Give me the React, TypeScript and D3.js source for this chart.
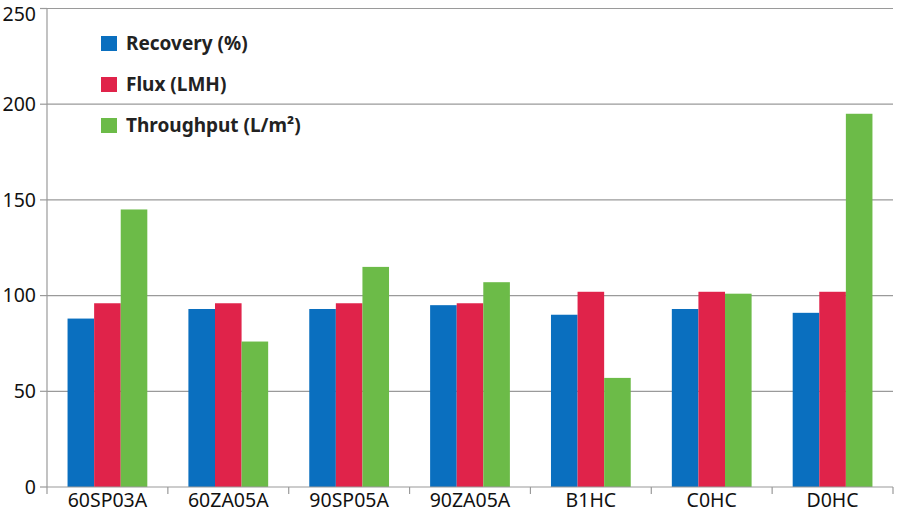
import React from "react";
import * as d3 from "d3";

const categories = ["60SP03A", "60ZA05A", "90SP05A", "90ZA05A", "B1HC", "C0HC", "D0HC"];
const recovery = [88, 93, 93, 95, 90, 93, 91];
const flux = [96, 96, 96, 96, 102, 102, 102];
const throughput = [145, 76, 115, 107, 57, 101, 195];
const yTicks = [0, 50, 100, 150, 200, 250];

const series = [
  { name: "Recovery (%)", values: recovery, color: "#0a6fbf" },
  { name: "Flux (LMH)", values: flux, color: "#e0234a" },
  { name: "Throughput (L/m²)", values: throughput, color: "#6cbb48" },
];

const width = 900;
const height = 513;
const left = 47;
const right = 893;
const top = 8.5;
const bottom = 487;
const font = "'Noto Sans', 'Open Sans', sans-serif";

export default function App() {
  const x = d3.scaleBand<string>().domain(categories).range([left, right]).paddingInner(0).paddingOuter(0);
  const inner = d3
    .scaleBand<string>()
    .domain(series.map((s) => s.name))
    .range([0, x.bandwidth() * 0.66]);
  const offset = (x.bandwidth() - x.bandwidth() * 0.66) / 2;
  const y = d3.scaleLinear().domain([0, 250]).range([bottom, top]);

  const boundaries = [...categories.map((c) => x(c) as number), right];

  return (
    <svg width={width} height={height} style={{ position: "absolute", left: 0, top: 0, background: "#fff" }}>
      {yTicks.map((t) => (
        <g key={t}>
          {t > 0 && <line x1={left} x2={right} y1={y(t)} y2={y(t)} stroke="#9a9a9a" strokeWidth={1.2} />}
          <line x1={left - 7} x2={left} y1={y(t)} y2={y(t)} stroke="#9a9a9a" strokeWidth={1.2} />
          <text x={left - 11} y={Math.max(y(t), 14)} dy="0.35em" textAnchor="end" fontFamily={font} fontSize={19.5} fill="#111">
            {t}
          </text>
        </g>
      ))}
      {categories.map((c, i) =>
        series.map((s) => (
          <rect
            key={c + s.name}
            x={(x(c) as number) + offset + (inner(s.name) as number)}
            y={y(s.values[i])}
            width={inner.bandwidth()}
            height={bottom - y(s.values[i])}
            fill={s.color}
          />
        ))
      )}
      <line x1={left} x2={left} y1={top} y2={bottom} stroke="#9a9a9a" strokeWidth={1.2} />
      <line x1={left} x2={right} y1={bottom} y2={bottom} stroke="#9a9a9a" strokeWidth={1.2} />
      {boundaries.map((b, i) => (
        <line key={i} x1={b} x2={b} y1={bottom} y2={bottom + 7} stroke="#9a9a9a" strokeWidth={1.2} />
      ))}
      {categories.map((c) => (
        <text
          key={c}
          x={(x(c) as number) + x.bandwidth() / 2}
          y={507}
          textAnchor="middle"
          fontFamily={font}
          fontSize={19.5}
          fill="#111"
        >
          {c}
        </text>
      ))}
      {series.map((s, i) => (
        <g key={s.name} transform={`translate(101, ${36 + i * 41})`}>
          <rect x={0} y={0} width={16} height={15} fill={s.color} />
          <text x={25} y={7.5} dy="0.35em" fontFamily={font} fontSize={19} fontWeight="bold" fill="#222">
            {s.name}
          </text>
        </g>
      ))}
    </svg>
  );
}
